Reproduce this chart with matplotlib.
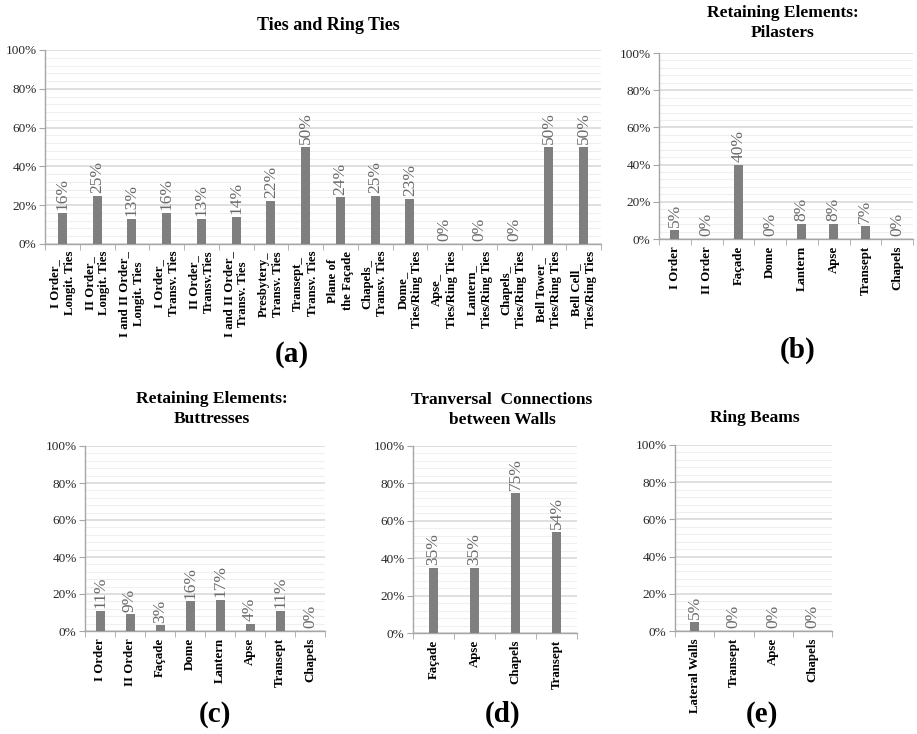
import numpy as np
import matplotlib.pyplot as plt
from matplotlib.ticker import MultipleLocator, FixedLocator, FuncFormatter

# (a) Ties and ring ties
ties_labels = [
    "I Order_\nLongit. Ties", "II Order_\nLongit. Ties", "I and II Order_\nLongit. Ties",
    "I Order_\nTransv. Ties", "II Order_\nTransv.Ties", "I and II Order_\nTransv. Ties",
    "Presbytery_\nTransv. Ties", "Transept_\nTransv. Ties", "Plane of\nthe Façade",
    "Chapels_\nTransv. Ties", "Dome_\nTies/Ring Ties", "Apse_\nTies/Ring Ties",
    "Lantern_\nTies/Ring Ties", "Chapels_\nTies/Ring Ties", "Bell Tower_\nTies/Ring Ties",
    "Bell Cell_\nTies/Ring Ties",
]
ties_values = [16, 25, 13, 16, 13, 14, 22, 50, 24, 25, 23, 0, 0, 0, 50, 50]

# (b) Pilasters
pilaster_labels = ["I Order", "II Order", "Façade", "Dome", "Lantern", "Apse", "Transept", "Chapels"]
pilaster_values = [5, 0, 40, 0, 8, 8, 7, 0]

# (c) Buttresses
buttress_labels = ["I Order", "II Order", "Façade", "Dome", "Lantern", "Apse", "Transept", "Chapels"]
buttress_values = [11, 9, 3, 16, 17, 4, 11, 0]

# (d) Transversal connections
connection_labels = ["Façade", "Apse", "Chapels", "Transept"]
connection_values = [35, 35, 75, 54]

# (e) Ring beams
ringbeam_labels = ["Lateral Walls", "Transept", "Apse", "Chapels"]
ringbeam_values = [5, 0, 0, 0]

W, H = 917, 734
SERIF = ["Liberation Serif", "DejaVu Serif"]
plt.rcParams["font.family"] = SERIF

fig = plt.figure(figsize=(W / 100, H / 100), dpi=100)
fig.patch.set_facecolor("white")


def px_axes(left, right, top, bottom):
    return fig.add_axes([left / W, 1 - bottom / H, (right - left) / W, (bottom - top) / H])


def bar_panel(ax, labels, values, bar_px, xfont):
    n = len(values)
    x = np.arange(n)
    ax_w = ax.get_position().width * W
    width = bar_px / (ax_w / n)
    ax.bar(x, values, width=width, color="#7f7f7f", zorder=3)
    for xi, v in zip(x, values):
        ax.text(xi, v + 1.5, f"{v}%", rotation=90, ha="center", va="bottom",
                fontsize=12.5, color="#6a6a6a", zorder=4)

    ax.set_xlim(-0.5, n - 0.5)
    ax.set_ylim(0, 100)

    ax.set_xticks(x)
    ax.set_xticklabels(labels, rotation=90, fontsize=xfont, fontweight="bold",
                       ha="center", va="top", multialignment="center")
    for lbl in ax.get_xticklabels():
        lbl.set_linespacing(1.3)
    ax.xaxis.set_minor_locator(FixedLocator(np.arange(n + 1) - 0.5))
    ax.tick_params(axis="x", which="major", length=0, pad=5)
    ax.tick_params(axis="x", which="minor", length=4, color="#a6a6a6", direction="out")

    ax.yaxis.set_major_locator(MultipleLocator(20))
    ax.yaxis.set_minor_locator(MultipleLocator(4))
    ax.yaxis.set_major_formatter(FuncFormatter(lambda v, _: f"{int(v)}%"))
    ax.tick_params(axis="y", which="major", length=4, color="#a6a6a6", labelsize=9.5,
                   labelcolor="#262626", pad=2)
    ax.tick_params(axis="y", which="minor", length=0)

    ax.grid(axis="y", which="major", color="#d9d9d9", linewidth=1.2, zorder=0)
    ax.grid(axis="y", which="minor", color="#efefef", linewidth=0.8, zorder=0)
    ax.set_axisbelow(True)

    for side in ("top", "right"):
        ax.spines[side].set_visible(False)
    for side in ("left", "bottom"):
        ax.spines[side].set_color("#a6a6a6")
        ax.spines[side].set_linewidth(1.0)


ax_a = px_axes(45, 601, 50, 244)
bar_panel(ax_a, ties_labels, ties_values, 9, 9.2)

ax_b = px_axes(659, 913, 53, 239)
bar_panel(ax_b, pilaster_labels, pilaster_values, 9, 9.3)

ax_c = px_axes(85, 325, 446, 631)
bar_panel(ax_c, buttress_labels, buttress_values, 9, 9.3)

ax_d = px_axes(413, 577, 446, 633)
bar_panel(ax_d, connection_labels, connection_values, 9, 9.3)

ax_e = px_axes(675, 832, 445, 631)
bar_panel(ax_e, ringbeam_labels, ringbeam_values, 9, 9.3)


def fig_text(x, y, s, size):
    fig.text(x / W, 1 - y / H, s, ha="center", va="center", fontsize=size,
             fontweight="bold", linespacing=1.35)


# panel titles
fig_text(328, 26, "Ties and Ring Ties", 13)
fig_text(783, 23, "Retaining Elements:\nPilasters", 12.5)
fig_text(212, 409, "Retaining Elements:\nButtresses", 12.5)
fig_text(502, 410, "Tranversal  Connections\nbetween Walls", 12.5)
fig_text(755, 418, "Ring Beams", 12.5)

# panel letters
fig_text(292, 354, "(a)", 21)
fig_text(798, 350, "(b)", 21)
fig_text(215, 714, "(c)", 21)
fig_text(503, 714, "(d)", 21)
fig_text(762, 714, "(e)", 21)

fig.savefig("out.png", dpi=100, facecolor="white")
